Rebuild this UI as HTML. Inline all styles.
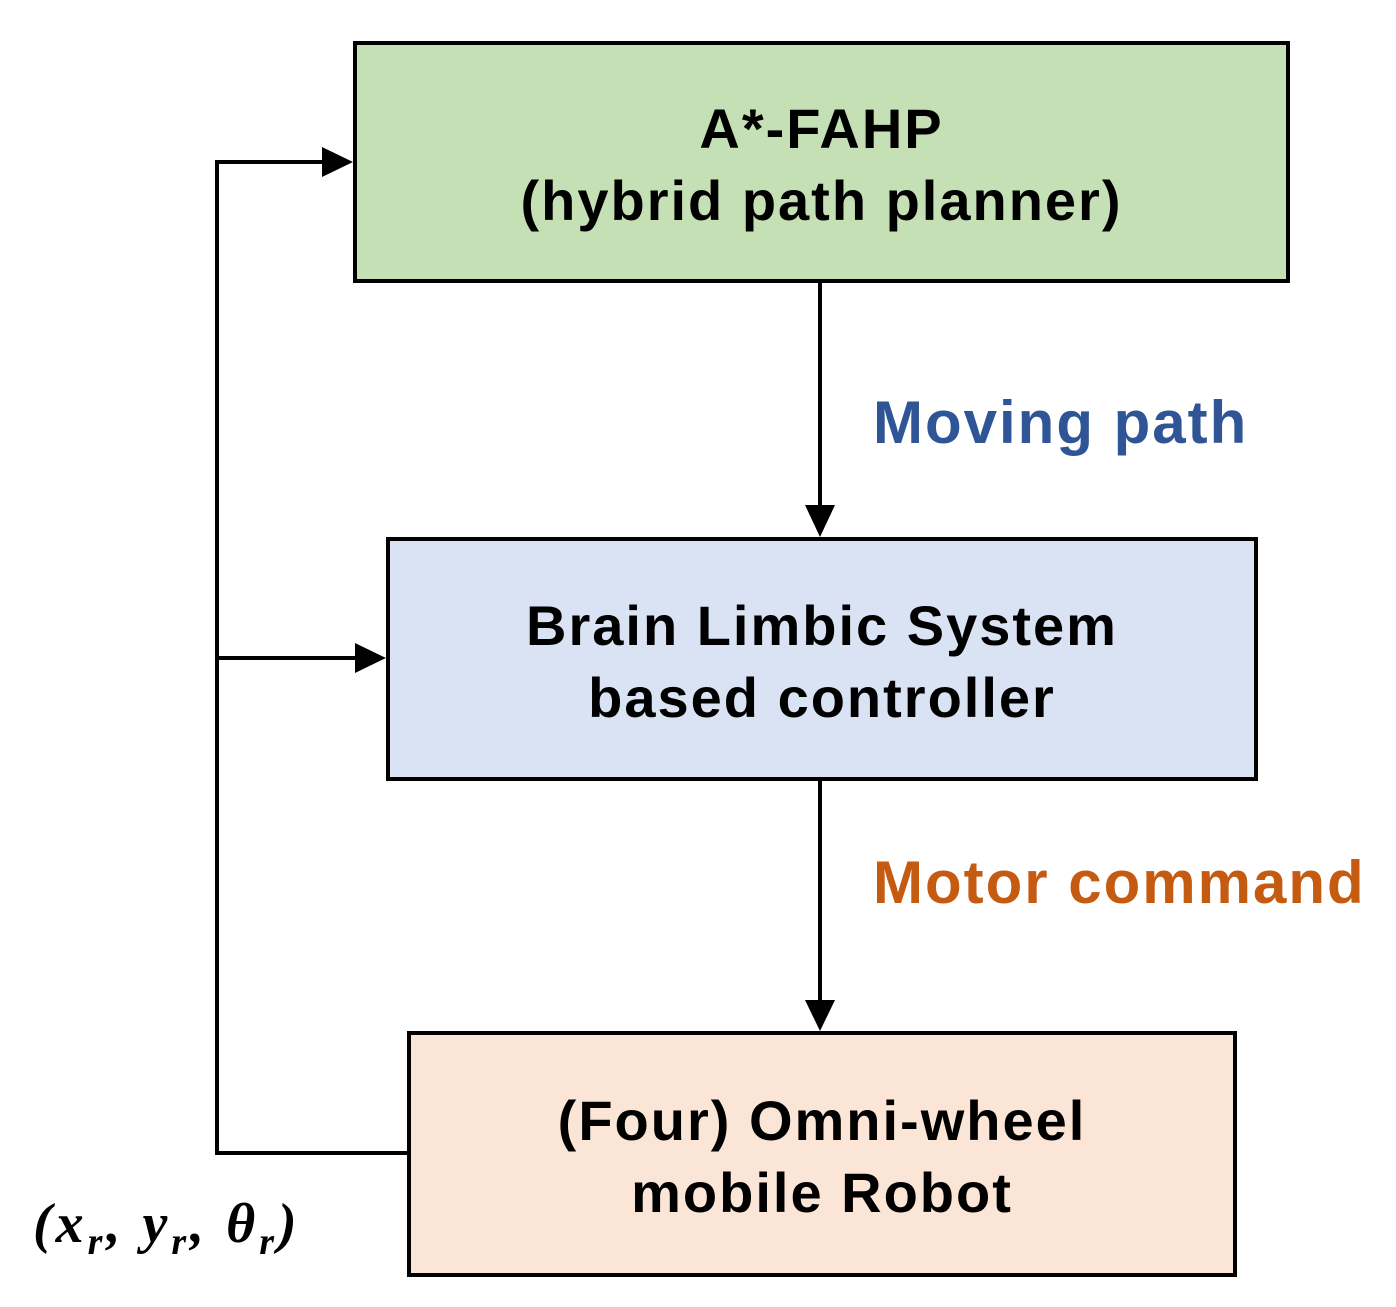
<!DOCTYPE html>
<html><head><meta charset="utf-8"><style>
body{margin:0;background:#fff;width:1396px;height:1307px;position:relative;overflow:hidden;font-family:"Liberation Sans","NanumGothic",sans-serif;}
.box{position:absolute;box-sizing:border-box;border:4px solid #000;display:flex;flex-direction:column;align-items:center;justify-content:center;font-weight:bold;font-size:56px;letter-spacing:2px;line-height:72px;color:#000;padding-top:6px;}
.lbl{position:absolute;font-weight:bold;font-size:60px;letter-spacing:2px;white-space:nowrap;}
</style></head><body>
<div class="box" style="left:353px;top:41px;width:937px;height:242px;background:#c5e0b4;"><div>A*-FAHP</div><div>(hybrid path planner)</div></div>
<div class="box" style="left:386px;top:537px;width:872px;height:244px;background:#dae3f3;"><div>Brain Limbic System</div><div>based controller</div></div>
<div class="box" style="left:407px;top:1031px;width:830px;height:246px;background:#fbe5d6;"><div>(Four) Omni-wheel</div><div>mobile Robot</div></div>
<svg width="1396" height="1307" style="position:absolute;left:0;top:0">
<g stroke="#000" stroke-width="4" fill="none">
<line x1="820" y1="283" x2="820" y2="510"/>
<line x1="820" y1="781" x2="820" y2="1005"/>
<polyline points="407,1153 217,1153 217,162 325,162"/>
<line x1="217" y1="658" x2="358" y2="658"/>
</g>
<g fill="#000">
<polygon points="805,505 835,505 820,537"/>
<polygon points="805,1000 835,1000 820,1031"/>
<polygon points="322,147 322,177 353,162"/>
<polygon points="355,643 355,673 386,658"/>
</g>
</svg>
<div class="lbl" style="left:873px;top:388px;color:#2f5597;">Moving path</div>
<div class="lbl" style="left:873px;top:848px;color:#c55a11;">Motor command</div>
<div style="position:absolute;left:33px;top:1192px;font-family:'Liberation Serif',serif;font-size:56px;font-weight:bold;font-style:italic;letter-spacing:4px;white-space:nowrap;">(x<sub style="font-size:38px">r</sub>, y<sub style="font-size:38px">r</sub>, θ<sub style="font-size:38px">r</sub>)</div>
</body></html>
